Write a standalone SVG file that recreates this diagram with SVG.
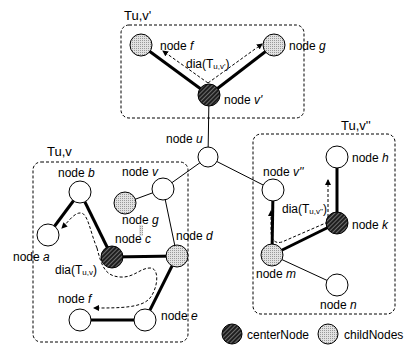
<svg xmlns="http://www.w3.org/2000/svg" width="412" height="348" viewBox="0 0 412 348">
  <style>
    text { font-family: "Liberation Sans", Arial, sans-serif; font-size: 12px; fill: #000; }
    .lbl { font-size: 13px; }
    .sub { font-size: 8px; }
    .it { font-style: italic; }
    .node { stroke: #000; stroke-width: 1; }
    .plain { fill: #fff; }
    .center { fill: url(#hatch); }
    .child { fill: url(#dots); }
    .box { fill: none; stroke: #000; stroke-width: 1; stroke-dasharray: 3 2; }
    .thin { stroke: #000; stroke-width: 1; fill: none; }
    .thick { stroke: #000; stroke-width: 3; fill: none; }
    .dia { stroke: #000; stroke-width: 1; fill: none; stroke-dasharray: 3 2; marker-end: url(#arrow); }
  </style>
  <defs>
    <pattern id="hatch" width="3" height="3" patternUnits="userSpaceOnUse" patternTransform="rotate(45)">
      <rect width="3" height="3" fill="#1e1e1e"/>
      <rect width="1" height="3" fill="#6e6e6e"/>
    </pattern>
    <pattern id="dots" width="2" height="2" patternUnits="userSpaceOnUse">
      <rect width="2" height="2" fill="#e2e2e2"/>
      <rect width="1" height="1" fill="#999"/>
    </pattern>
    <marker id="arrow" viewBox="0 0 6 6" refX="5" refY="3" markerWidth="6" markerHeight="6" markerUnits="userSpaceOnUse" orient="auto">
      <path d="M0,0 L6,3 L0,6 z" fill="#000"/>
    </marker>
  </defs>

  <!-- subtree boxes -->
  <g id="boxes">
    <rect class="box" x="121" y="25" width="183" height="93" rx="8"/>
    <rect class="box" x="33" y="162" width="155" height="180" rx="8"/>
    <rect class="box" x="253" y="134" width="142" height="180" rx="8"/>
    <text class="lbl" x="124" y="20">Tu,v'</text>
    <text class="lbl" x="47" y="156">Tu,v</text>
    <text class="lbl" x="341" y="130">Tu,v''</text>
  </g>

  <!-- edges -->
  <g id="connectors">
    <line class="thick" x1="209" y1="95" x2="141" y2="45"/>
    <line class="thick" x1="209" y1="95" x2="274" y2="45"/>
    <line class="thin" x1="209" y1="95" x2="208" y2="157"/>
    <line class="thin" x1="208" y1="157" x2="163" y2="189"/>
    <line class="thin" x1="208" y1="157" x2="273" y2="190"/>
    <line class="thin" x1="163" y1="189" x2="125" y2="203"/>
    <line class="thin" x1="163" y1="189" x2="177" y2="256"/>
    <line class="thick" x1="48" y1="235" x2="80" y2="192"/>
    <line class="thick" x1="80" y1="192" x2="112" y2="257"/>
    <line class="thick" x1="112" y1="257" x2="177" y2="256"/>
    <line class="thick" x1="177" y1="256" x2="145" y2="320"/>
    <line class="thick" x1="145" y1="320" x2="80" y2="320"/>
    <line class="thick" x1="273" y1="190" x2="272" y2="255"/>
    <line class="thick" x1="272" y1="255" x2="337" y2="223"/>
    <line class="thick" x1="337" y1="223" x2="337" y2="157"/>
    <line class="thin" x1="272" y1="255" x2="337" y2="285"/>
    <rect x="139" y="225" width="4" height="11" fill="url(#dots)"/>
  </g>

  <!-- diameter paths -->
  <g id="diameters">
    <path class="dia" d="M208,83 L163,51"/>
    <path class="dia" d="M208,83 L262,44"/>
    <path class="dia" d="M97,248 C90,232 88,212 80,213 C74,213 68,222 62,228"/>
    <path class="dia" d="M97,248 C102,268 106,276 120,277 C134,278 140,268 150,268 C160,268 158,288 150,298 C142,308 120,308 94,308"/>
    <path class="dia" d="M328,222 L328,180"/>
    <path class="dia" d="M328,222 L282,242 C275,244 271,240 271,230 L271,211"/>
    <text x="186" y="68">dia(T<tspan class="sub" dy="1">u,v'</tspan><tspan dy="-1">)</tspan></text>
    <text x="55" y="274">dia(T<tspan class="sub" dy="1">u,v</tspan><tspan dy="-1">)</tspan></text>
    <text x="282" y="213">dia(T<tspan class="sub" dy="1">u,v''</tspan><tspan dy="-1">)</tspan></text>
  </g>

  <!-- nodes -->
  <g id="node-f-top"><circle class="node child" cx="141" cy="45" r="11"/><text x="160" y="50">node <tspan class="it">f</tspan></text></g>
  <g id="node-g-top"><circle class="node child" cx="274" cy="45" r="11"/><text x="289" y="50">node <tspan class="it">g</tspan></text></g>
  <g id="node-v1"><circle class="node center" cx="209" cy="95" r="11"/><text x="224" y="104">node <tspan class="it">v'</tspan></text></g>
  <g id="node-u"><circle class="node plain" cx="208" cy="157" r="10"/><text x="166" y="143">node <tspan class="it">u</tspan></text></g>

  <g id="node-b"><circle class="node plain" cx="80" cy="192" r="11"/><text x="58" y="177">node <tspan class="it">b</tspan></text></g>
  <g id="node-v"><circle class="node plain" cx="163" cy="189" r="11"/><text x="122" y="176">node <tspan class="it">v</tspan></text></g>
  <g id="node-g"><circle class="node child" cx="125" cy="203" r="11"/><text x="122" y="224">node <tspan class="it">g</tspan></text></g>
  <g id="node-a"><circle class="node plain" cx="48" cy="235" r="11"/><text x="13" y="261">node <tspan class="it">a</tspan></text></g>
  <g id="node-c"><circle class="node center" cx="112" cy="257" r="11"/><text x="115" y="243">node <tspan class="it">c</tspan></text></g>
  <g id="node-d"><circle class="node child" cx="177" cy="256" r="11"/><text x="176" y="240">node <tspan class="it">d</tspan></text></g>
  <g id="node-f"><circle class="node plain" cx="80" cy="320" r="11"/><text x="58" y="303">node <tspan class="it">f</tspan></text></g>
  <g id="node-e"><circle class="node plain" cx="145" cy="320" r="11"/><text x="161" y="320">node <tspan class="it">e</tspan></text></g>

  <g id="node-h"><circle class="node plain" cx="337" cy="157" r="11"/><text x="352" y="162">node <tspan class="it">h</tspan></text></g>
  <g id="node-v2"><circle class="node plain" cx="273" cy="190" r="11"/><text x="263" y="176">node <tspan class="it">v''</tspan></text></g>
  <g id="node-k"><circle class="node center" cx="337" cy="223" r="11"/><text x="352" y="229">node <tspan class="it">k</tspan></text></g>
  <g id="node-m"><circle class="node child" cx="272" cy="255" r="11"/><text x="256" y="278">node <tspan class="it">m</tspan></text></g>
  <g id="node-n"><circle class="node plain" cx="337" cy="285" r="11"/><text x="320" y="309">node <tspan class="it">n</tspan></text></g>

  <!-- legend -->
  <g id="legend">
    <circle class="node center" cx="232" cy="334" r="10"/>
    <text x="247" y="339">centerNode</text>
    <circle class="node child" cx="328" cy="334" r="10"/>
    <text x="344" y="339">childNodes</text>
  </g>
</svg>
